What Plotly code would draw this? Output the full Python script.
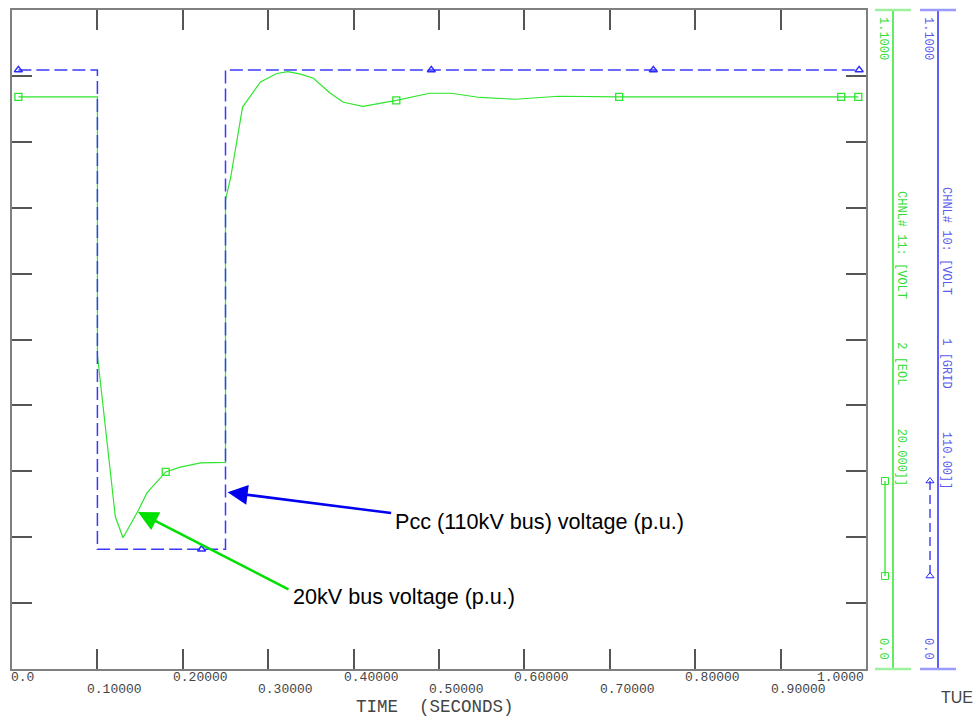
import plotly.graph_objects as go

# ---------------- data ----------------
time_20kv = [0.0075, 0.100, 0.100, 0.106, 0.121, 0.130, 0.148, 0.158, 0.180, 0.197,
             0.221, 0.250, 0.250, 0.256, 0.270, 0.291, 0.310, 0.323, 0.338, 0.353,
             0.372, 0.388, 0.411, 0.450, 0.489, 0.514, 0.548, 0.589, 0.640, 0.711, 0.991]
volt_20kv = [0.955, 0.955, 0.524, 0.445, 0.254, 0.219, 0.265, 0.294, 0.329, 0.337,
             0.344, 0.345, 0.783, 0.820, 0.938, 0.980, 0.994, 0.997, 0.993, 0.986,
             0.962, 0.946, 0.939, 0.949, 0.961, 0.961, 0.954, 0.951, 0.956, 0.955, 0.955]
mark_t_20kv = [0.0075, 0.180, 0.450, 0.711, 0.971, 0.991]
mark_v_20kv = [0.955, 0.329, 0.949, 0.955, 0.955, 0.955]

time_pcc = [0.0075, 0.100, 0.100, 0.250, 0.250, 0.992]
volt_pcc = [1.000, 1.000, 0.200, 0.200, 1.000, 1.000]
mark_t_pcc = [0.0075, 0.222, 0.491, 0.751, 0.992]
mark_v_pcc = [1.000, 0.200, 1.000, 1.000, 1.000]

xtick_vals = [0.0, 0.1, 0.2, 0.3, 0.4, 0.5, 0.6, 0.7, 0.8, 0.9, 1.0]
xtick_text = ["0.0", "0.10000", "0.20000", "0.30000", "0.40000", "0.50000",
              "0.60000", "0.70000", "0.80000", "0.90000", "1.0000"]

green_label = "CHNL# 11: [VOLT      2 [EOL      20.000]]"
blue_label = "CHNL# 10: [VOLT      1 [GRID      110.00]]"
axis_top_label = "1.1000"
axis_bottom_label = "0.0"

GREEN = "#2ee62e"
BLUE = "#2a2aff"
W, H = 976, 719
MONO = "Liberation Mono, DejaVu Sans Mono, monospace"

fig = go.Figure()

fig.add_trace(go.Scatter(x=time_20kv, y=volt_20kv, mode="lines",
                         line=dict(color=GREEN, width=1.2), hoverinfo="skip"))
fig.add_trace(go.Scatter(x=mark_t_20kv, y=mark_v_20kv, mode="markers",
                         marker=dict(symbol="square-open", size=7, color=GREEN,
                                     line=dict(width=1.3, color=GREEN)), hoverinfo="skip"))
fig.add_trace(go.Scatter(x=time_pcc, y=volt_pcc, mode="lines",
                         line=dict(color="#3a3aff", width=1.5, dash="13px,5px"), hoverinfo="skip"))
fig.add_trace(go.Scatter(x=mark_t_pcc, y=mark_v_pcc, mode="markers",
                         marker=dict(symbol="triangle-up-open", size=7, color=BLUE,
                                     line=dict(width=1.5, color=BLUE)), hoverinfo="skip"))

# legend keys beside the right axes (pixel overlay axes)
fig.add_trace(go.Scatter(x=[885, 885], y=[481, 576], xaxis="x2", yaxis="y2",
                         mode="lines+markers", line=dict(color=GREEN, width=1.3),
                         marker=dict(symbol="square-open", size=7, color=GREEN), hoverinfo="skip"))
fig.add_trace(go.Scatter(x=[930, 930], y=[481, 576], xaxis="x2", yaxis="y2",
                         mode="lines+markers", line=dict(color=BLUE, width=1.3, dash="9px,5px"),
                         marker=dict(symbol="triangle-up-open", size=7, color=BLUE), hoverinfo="skip"))

x0, x1 = 12, 866
y0, y1 = 10, 669

axis_common = dict(showgrid=False, zeroline=False, showticklabels=False,
                   ticks="inside", ticklen=20, tickwidth=1.5, tickcolor="#555",
                   showline=True, linecolor="#808080", linewidth=2, mirror="ticks")

fig.update_layout(
    width=W, height=H, margin=dict(l=0, r=0, t=0, b=0),
    paper_bgcolor="white", plot_bgcolor="rgba(0,0,0,0)", showlegend=False,
    xaxis=dict(domain=[x0 / W, x1 / W], range=[0, 1.0], tick0=0, dtick=0.1, **axis_common),
    yaxis=dict(domain=[(H - y1) / H, (H - y0) / H], range=[0, 1.1], tick0=0, dtick=0.11,
               **axis_common),
    xaxis2=dict(domain=[0, 1], range=[0, W], visible=False, anchor="y2"),
    yaxis2=dict(domain=[0, 1], range=[H, 0], visible=False, anchor="x2"),
)

shapes = []
# right-hand axes (green, blue)
for ax_x, col, cap in [(893, GREEN, "#9ef09e"), (938, BLUE, "#9a9aff")]:
    shapes.append(dict(type="line", xref="x2", yref="y2", x0=ax_x, x1=ax_x, y0=y0, y1=y1,
                       line=dict(color=col, width=1.5)))
    for yy in (y0, y1):
        shapes.append(dict(type="line", xref="x2", yref="y2", x0=ax_x - 18, x1=ax_x + 18,
                           y0=yy, y1=yy, line=dict(color=cap, width=2.5)))
fig.update_layout(shapes=shapes)

ann = []
# x tick labels, alternating rows
for i, (v, t) in enumerate(zip(xtick_vals, xtick_text)):
    row_y = 677 if i % 2 == 0 else 689
    if i == 0:
        a = dict(x=v, xanchor="left", xshift=-3)
    elif i == len(xtick_vals) - 1:
        a = dict(x=v, xanchor="right", xshift=0)
    else:
        a = dict(x=v, xanchor="left", xshift=-12)
    a.update(xref="x", yref="y2", y=row_y, yanchor="middle", text=t, showarrow=False,
             font=dict(family=MONO, size=13, color="#444"))
    ann.append(a)

ann.append(dict(xref="x2", yref="y2", x=435, y=707, text="TIME  (SECONDS)", showarrow=False,
                font=dict(family=MONO, size=17.5, color="#444"), xanchor="center", yanchor="middle"))
ann.append(dict(xref="x2", yref="y2", x=939, y=697, text="TUE", showarrow=False,
                font=dict(family="Liberation Sans, Arial", size=16, color="#444"),
                xanchor="left", yanchor="middle"))

# rotated right-axis labels
for cx, col in [(883, "#33dd33"), (928, "#5a5aee")]:
    ann.append(dict(xref="x2", yref="y2", x=cx, y=38, text=axis_top_label, textangle=90,
                    showarrow=False, font=dict(family=MONO, size=12, color=col)))
    ann.append(dict(xref="x2", yref="y2", x=cx, y=649, text=axis_bottom_label, textangle=90,
                    showarrow=False, font=dict(family=MONO, size=12, color=col)))
ann.append(dict(xref="x2", yref="y2", x=901, y=338, text=green_label.replace(" ", "\u00a0"),
                textangle=90, showarrow=False, font=dict(family=MONO, size=12, color="#33dd33")))
ann.append(dict(xref="x2", yref="y2", x=946, y=338, text=blue_label.replace(" ", "\u00a0"),
                textangle=90, showarrow=False, font=dict(family=MONO, size=12, color="#5a5aee")))

# call-out arrows and texts
ann.append(dict(xref="x", yref="y", x=0.2525, y=0.295, ax=165, ay=21, text="",
                showarrow=True, arrowhead=2, arrowsize=1.6, arrowwidth=2.5, arrowcolor="#0000ee"))
ann.append(dict(xref="x", yref="y", x=0.1475, y=0.262, ax=152, ay=78, text="",
                showarrow=True, arrowhead=2, arrowsize=1.6, arrowwidth=2.5, arrowcolor="#00e000"))
ann.append(dict(xref="x2", yref="y2", x=393, y=521, text="Pcc (110kV bus) voltage (p.u.)",
                showarrow=False, xanchor="left", yanchor="middle",
                font=dict(family="Liberation Sans, Arial", size=21.6, color="black")))
ann.append(dict(xref="x2", yref="y2", x=291, y=596, text="20kV bus voltage (p.u.)",
                showarrow=False, xanchor="left", yanchor="middle",
                font=dict(family="Liberation Sans, Arial", size=21.6, color="black")))

fig.update_layout(annotations=ann)

fig.write_html("out.html", config={"displayModeBar": False},
               post_script="document.body.style.margin='0';document.body.style.overflow='hidden';")
